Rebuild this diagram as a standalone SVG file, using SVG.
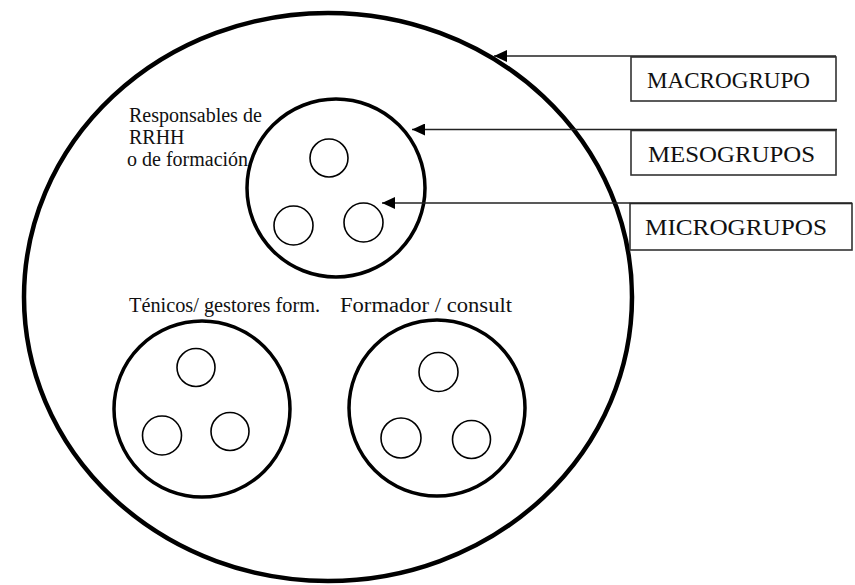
<svg xmlns="http://www.w3.org/2000/svg" width="855" height="585" viewBox="0 0 855 585">
  <style>
    .txt { font-family: "Liberation Serif", "Times New Roman", serif; fill: #111; }
    .lbl { font-size: 20px; }
    .box { fill: #fff; stroke: #333; stroke-width: 1.6; }
    .boxtxt { font-size: 23px; }
    .macro { fill: none; stroke: #000; stroke-width: 4.5; }
    .meso { fill: none; stroke: #000; stroke-width: 3.5; }
    .micro { fill: none; stroke: #000; stroke-width: 1.6; }
    .conn { fill: none; stroke: #222; stroke-width: 1.4; }
  </style>
  <defs>
    <marker id="arrow" viewBox="0 0 13 12" refX="13" refY="6" markerWidth="13" markerHeight="12" markerUnits="userSpaceOnUse" orient="auto">
      <path d="M0,0 L13,6 L0,12 z" fill="#000"/>
    </marker>
  </defs>
  <rect width="855" height="585" fill="#fff"/>

  <g id="macrogrupo">
    <ellipse class="macro" cx="328" cy="297" rx="304" ry="284"/>
  </g>

  <g id="meso-rrhh">
    <text class="txt lbl" x="129" y="122">Responsables de</text>
    <text class="txt lbl" x="129" y="144">RRHH</text>
    <text class="txt lbl" x="127" y="166">o de formación</text>
    <circle class="meso" cx="336" cy="188" r="89"/>
    <circle class="micro" cx="329" cy="158" r="19"/>
    <circle class="micro" cx="293.5" cy="225.5" r="19.5"/>
    <circle class="micro" cx="363.5" cy="222.5" r="19.5"/>
  </g>

  <g id="meso-tecnicos">
    <text class="txt lbl" x="129" y="312" textLength="191" lengthAdjust="spacingAndGlyphs">Ténicos/ gestores form.</text>
    <circle class="meso" cx="202" cy="409" r="88"/>
    <circle class="micro" cx="196" cy="367.5" r="19"/>
    <circle class="micro" cx="162" cy="435.5" r="19.5"/>
    <circle class="micro" cx="230" cy="431.5" r="19"/>
  </g>

  <g id="meso-formador">
    <text class="txt lbl" x="340" y="312" textLength="172" lengthAdjust="spacingAndGlyphs">Formador / consult</text>
    <circle class="meso" cx="437" cy="408" r="88"/>
    <circle class="micro" cx="438.5" cy="372" r="19.5"/>
    <circle class="micro" cx="401" cy="438" r="20"/>
    <circle class="micro" cx="471.5" cy="439.5" r="19"/>
  </g>

  <g id="label-macro">
    <rect class="box" x="631" y="57" width="205" height="44"/>
    <text class="txt boxtxt" x="647" y="88" textLength="163" lengthAdjust="spacingAndGlyphs">MACROGRUPO</text>
  </g>
  <g id="label-meso">
    <rect class="box" x="631" y="130.5" width="205" height="44.5"/>
    <text class="txt boxtxt" x="648" y="162" textLength="167" lengthAdjust="spacingAndGlyphs">MESOGRUPOS</text>
  </g>
  <g id="label-micro">
    <rect class="box" x="630" y="203.5" width="222" height="46.5"/>
    <text class="txt boxtxt" x="645" y="235" textLength="182" lengthAdjust="spacingAndGlyphs">MICROGRUPOS</text>
  </g>

  <g id="connectors">
    <line class="conn" x1="836" y1="56" x2="494" y2="56" marker-end="url(#arrow)"/>
    <line class="conn" x1="837" y1="129.5" x2="412" y2="129.5" marker-end="url(#arrow)"/>
    <line class="conn" x1="852" y1="203" x2="382" y2="203" marker-end="url(#arrow)"/>
  </g>
</svg>
